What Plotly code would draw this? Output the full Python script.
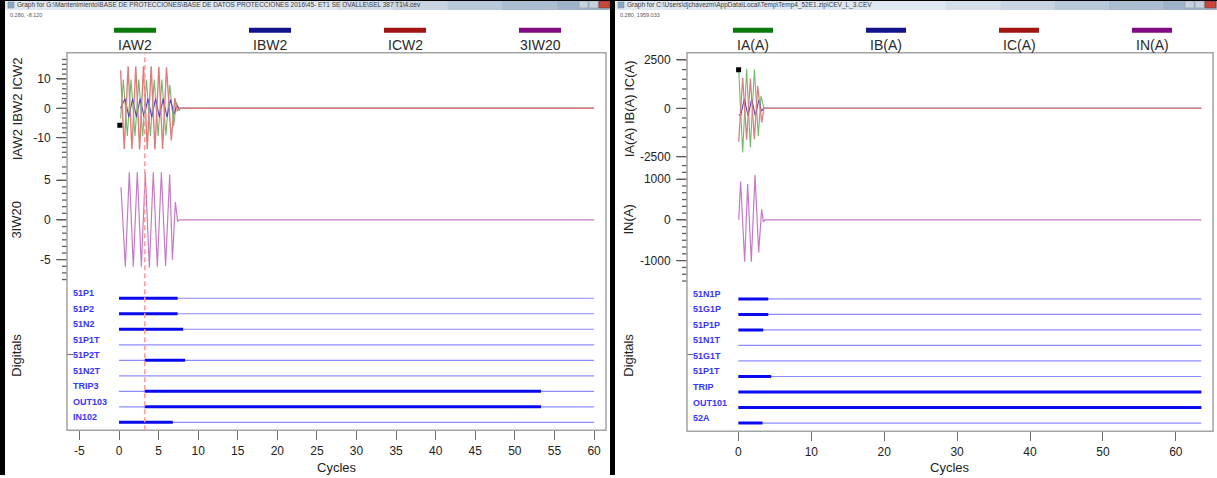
import math
import plotly.graph_objects as go

W, H = 1217, 478

# ---------------- data ----------------
# Left record (SEL 387 T1) - analog channels, time in cycles, values at successive extrema
L_T_IAW2 = [0.2, 0.55, 1.05, 1.52, 2.02, 2.5, 2.99, 3.47, 3.96, 4.45, 4.94, 5.42, 5.92, 6.42, 6.9, 7.25, 7.55, 7.8, 60]
L_V_IAW2 = [-3.5, 9.8, -9.4, 9.8, -9.4, 9.8, -9.5, 9.8, -9.4, 9.8, -9.4, 9.8, -9.3, 8.0, -6.0, 2.0, -0.8, 0, 0]
L_T_IBW2 = [0.2, 0.76, 1.25, 1.72, 2.2, 2.68, 3.17, 3.65, 4.14, 4.62, 5.1, 5.58, 6.06, 6.5, 6.95, 7.3, 7.6, 60]
L_V_IBW2 = [0, 3.3, -3.0, 3.3, -3.0, 3.3, -3.0, 3.3, -3.0, 3.3, -3.0, 3.3, -3.0, 3.0, -2.0, 1.0, 0, 0]
L_T_ICW2 = [0.2, 0.66, 1.15, 1.63, 2.12, 2.6, 3.09, 3.57, 4.06, 4.54, 5.03, 5.51, 6.0, 6.6, 7.05, 7.35, 7.7, 60]
L_V_ICW2 = [13.0, -13.9, 14.3, -13.9, 14.3, -14.0, 14.3, -13.9, 14.3, -14.0, 14.2, -13.9, 14.0, -11.0, 3.5, -0.8, 0, 0]
L_T_3IW20 = [0.25, 0.8, 1.3, 1.8, 2.31, 2.82, 3.32, 3.83, 4.33, 4.84, 5.35, 5.88, 6.4, 6.75, 7.12, 7.4, 7.6, 60]
L_V_3IW20 = [4.1, -5.9, 6.0, -5.9, 6.0, -5.9, 6.0, -6.0, 6.0, -5.9, 6.0, -5.8, 5.7, -5.0, 2.25, -0.2, 0, 0]

L_DIG_NAMES = ["51P1", "51P2", "51N2", "51P1T", "51P2T", "51N2T", "TRIP3", "OUT103", "IN102"]
L_DIG_ON = [0, 0, 0, None, 3.25, None, 3.25, 3.25, 0]
L_DIG_OFF = [7.4, 7.4, 8.1, None, 8.35, None, 53.3, 53.3, 6.8]
L_END = 60
L_TRIGGER = 3.25
L_CURSOR = (0.1, -5.8)
L_LEGEND = ["IAW2", "IBW2", "ICW2", "3IW20"]
L_XTICKS = [-5, 0, 5, 10, 15, 20, 25, 30, 35, 40, 45, 50, 55, 60]

# Right record (CEV_L_3)
R_T_IA = [0.04, 0.59, 1.13, 1.64, 2.19, 2.73, 3.1, 3.51, 63.5]
R_V_IA = [2000, -2280, 2030, -2020, 2000, -1430, 630, 0, 0]
R_T_IB = [0.04, 0.31, 0.81, 1.32, 1.82, 2.32, 2.82, 3.15, 3.45, 63.5]
R_V_IB = [-310, -390, 500, -390, 480, -380, 450, -150, 0, 0]
R_T_IC = [0.04, 0.59, 1.13, 1.64, 2.19, 2.65, 3.2, 3.5, 63.5]
R_V_IC = [-1730, 1575, -1625, 1540, -1600, 1145, -735, 0, 0]
R_T_IN = [0.04, 0.31, 0.86, 1.27, 1.77, 2.28, 2.78, 3.19, 3.42, 3.65, 63.5]
R_V_IN = [0, 940, -1025, 880, -1025, 1105, -800, 260, -50, 0, 0]

R_DIG_NAMES = ["51N1P", "51G1P", "51P1P", "51N1T", "51G1T", "51P1T", "TRIP", "OUT101", "52A"]
R_DIG_ON = [0, 0, 0, None, None, 0, 0, 0, 0]
R_DIG_OFF = [4.1, 4.1, 3.4, None, None, 4.5, 63.5, 63.5, 3.3]
R_END = 63.5
R_CURSOR = (0.03, 1990)
R_LEGEND = ["IA(A)", "IB(A)", "IC(A)", "IN(A)"]
R_XTICKS = [0, 10, 20, 30, 40, 50, 60]

# ---------------- styling ----------------
FONT = "Arial, Liberation Sans, sans-serif"
TICKC = "#6e6e6e"
YTICKC = "#5e5e5e"
TXT = "#222222"
C_GREEN = "#6cbc6c"
C_BLUE = "#4a4ac4"
C_RED = "#e07c7c"
C_PURPLE = "#c67ac6"
LEG_COLORS = ["#0b7a0b", "#12128a", "#a01414", "#820a82"]
DIG_THIN = "#8c8cff"
DIG_THICK = "#0a0af0"
DIG_TXT = "#3535ff"


def px(x):
    return x / W


def py(y):
    return 1 - y / H


fig = go.Figure()


def line(x, y, xa, ya, color, width):
    fig.add_trace(go.Scatter(x=x, y=y, xaxis=xa, yaxis=ya, mode="lines",
                             line=dict(color=color, width=width),
                             hoverinfo="skip", showlegend=False))


# analog channels
line(L_T_IAW2, L_V_IAW2, "x", "y", C_GREEN, 1.1)
line(L_T_IBW2, L_V_IBW2, "x", "y", C_BLUE, 1.1)
line(L_T_ICW2, L_V_ICW2, "x", "y", C_RED, 1.4)
line(L_T_3IW20, L_V_3IW20, "x", "y2", C_PURPLE, 1.2)
line(R_T_IA, R_V_IA, "x2", "y4", C_GREEN, 1.1)
line(R_T_IB, R_V_IB, "x2", "y4", C_BLUE, 1.1)
line(R_T_IC, R_V_IC, "x2", "y4", C_RED, 1.3)
line(R_T_IN, R_V_IN, "x2", "y5", C_PURPLE, 1.2)


# digital channels
def digitals(names, on, off, end, xa, ya):
    n = len(names)
    for i in range(n):
        r = n - 1 - i
        line([0, end], [r, r], xa, ya, DIG_THIN, 1.2)
        if on[i] is not None:
            line([on[i], off[i]], [r, r], xa, ya, DIG_THICK, 3)


digitals(L_DIG_NAMES, L_DIG_ON, L_DIG_OFF, L_END, "x", "y3")
digitals(R_DIG_NAMES, R_DIG_ON, R_DIG_OFF, R_END, "x2", "y6")

# cursor markers
fig.add_trace(go.Scatter(x=[L_CURSOR[0]], y=[L_CURSOR[1]], xaxis="x", yaxis="y", mode="markers",
                         marker=dict(symbol="square", size=5, color="black"), hoverinfo="skip", showlegend=False))
fig.add_trace(go.Scatter(x=[R_CURSOR[0]], y=[R_CURSOR[1]], xaxis="x2", yaxis="y4", mode="markers",
                         marker=dict(symbol="square", size=5, color="black"), hoverinfo="skip", showlegend=False))

# ---------------- axes ----------------
tickfont = dict(family=FONT, size=12, color=TXT)


def xaxis(dom, rng, ticks, anchor):
    return dict(domain=dom, range=rng, anchor=anchor, tickmode="array", tickvals=ticks,
                ticktext=[str(t) for t in ticks], ticks="outside", ticklen=9, tickcolor=TICKC,
                tickwidth=1, tickfont=tickfont, showgrid=False, zeroline=False, showline=False,
                fixedrange=True)


def xover(rng, over, anchor, dt):
    return dict(range=rng, overlaying=over, anchor=anchor, tickmode="linear", tick0=0, dtick=dt,
                ticks="inside", ticklen=8, tickcolor=TICKC, tickwidth=1, showticklabels=False,
                showgrid=False, zeroline=False, showline=False, fixedrange=True)


def yaxis(dom, rng, ticks, anchor):
    return dict(domain=dom, range=rng, anchor=anchor, tickmode="array", tickvals=ticks,
                ticktext=[str(t) for t in ticks], ticks="outside", ticklen=10, tickcolor=YTICKC,
                tickwidth=1, tickfont=tickfont, ticklabelstandoff=3,
                showgrid=False, zeroline=False, showline=False, fixedrange=True)


def ydig(dom, rng, anchor):
    return dict(domain=dom, range=rng, anchor=anchor, tickmode="array", tickvals=[4.4],
                ticktext=[""], ticks="inside", ticklen=6, tickcolor=TICKC,
                showgrid=False, zeroline=False, showline=False, fixedrange=True)


L_XR = [-6.57, 61.51]
R_XR = [-7.05, 65.1]
Y1R = [-17.97, 18.3]
Y2R = [-7.71, 7.04]
Y3R = [-0.513, 8.97]
Y4R = [-2720, 2874]
Y5R = [-1505, 1373]
Y6R = [-0.53, 9.01]

layout = dict(
    width=W, height=H, autosize=False, margin=dict(l=0, r=0, t=0, b=0, pad=0),
    paper_bgcolor="white", plot_bgcolor="rgba(0,0,0,0)", showlegend=False,
    font=dict(family=FONT, color=TXT),
    xaxis=xaxis([px(67), px(606)], L_XR, L_XTICKS, "y3"),
    xaxis3=xover(L_XR, "x", "y3", 1),
    xaxis2=xaxis([px(687), px(1213)], R_XR, R_XTICKS, "y6"),
    xaxis4=xover(R_XR, "x2", "y6", 2),
    yaxis=yaxis([py(162), py(55)], Y1R, [-10, 0, 10], "x"),
    yaxis2=yaxis([py(283), py(165)], Y2R, [-5, 0, 5], "x"),
    yaxis3=ydig([py(433), py(285)], Y3R, "x"),
    yaxis4=yaxis([py(162), py(53)], Y4R, [-2500, 0, 2500], "x2"),
    yaxis5=yaxis([py(283), py(165)], Y5R, [-1000, 0, 1000], "x2"),
    yaxis6=ydig([py(434), py(285)], Y6R, "x2"),
)
fig.update_layout(**layout)

# ---------------- shapes ----------------
shapes = []


def rect(x0, y0, x1, y1, fill, lc=None, lw=0, layer="above"):
    shapes.append(dict(type="rect", xref="paper", yref="paper", x0=px(x0), x1=px(x1),
                       y0=py(y1), y1=py(y0), fillcolor=fill,
                       line=dict(color=lc or fill, width=lw), layer=layer))


def yticks(rng, dom_px, major, minor, axis_px):
    # axis decoration: ruler tick marks placed with the axis' own value->pixel scale
    top, bot = dom_px
    k0 = math.ceil(rng[0] / minor - 1e-9)
    k1 = math.floor(rng[1] / minor + 1e-9)
    for k in range(k0, k1 + 1):
        v = k * minor
        ypx = bot - (v - rng[0]) / (rng[1] - rng[0]) * (bot - top)
        is_major = abs(v / major - round(v / major)) < 1e-6
        ln = 10 if is_major else 5
        shapes.append(dict(type="line", xref="paper", yref="paper", x0=px(axis_px - ln), x1=px(axis_px),
                           y0=py(ypx), y1=py(ypx), line=dict(color=YTICKC, width=1.3), layer="above"))


yticks(Y1R, (55, 162), 10, 10 / 6, 67)
yticks(Y2R, (165, 283), 5, 5 / 6, 67)
yticks(Y4R, (53, 162), 2500, 500, 687)
yticks(Y5R, (165, 283), 1000, 1000 / 6, 687)

# window title bars
for (a, b) in [(5, 611), (615, 1217)]:
    rect(a, 0, b, 10, "#dfe7f0")
    span = b - a
    for k, c in enumerate(["#d4dee9", "#c8d4e1", "#b9c8d8", "#aabccf", "#9fb3c8"]):
        rect(a + span * (0.55 + 0.09 * k), 0, a + span * (0.64 + 0.09 * k), 10, c)
    rect(b - 32, 1, b - 23, 8, "#c9d2dc", "#8a98a8", 0.5)
    rect(b - 22, 1, b - 13, 8, "#c9d2dc", "#8a98a8", 0.5)
    rect(b - 12, 1, b - 1, 8, "#c8463a", "#8a2a22", 0.5)
    rect(a + 3, 2, a + 9, 8, "#8fa6c2", "#6f86a2", 0.5)
rect(0, 0, 1217, 1, "black")
rect(0, 0, 5, 478, "black")
rect(610, 0, 615, 478, "black")

# plot frames
rect(67, 53, 606, 433, "rgba(0,0,0,0)", "#a3a3a3", 1.5)
rect(687, 53, 1213, 434, "rgba(0,0,0,0)", "#a3a3a3", 1.5)

# legend colour bars
for i in range(4):
    cx = 135 + 135 * i
    rect(cx - 21, 28, cx + 21, 33, LEG_COLORS[i])
    cx = 753 + 133 * i
    rect(cx - 20, 28, cx + 20, 33, LEG_COLORS[i])

# trigger cursor line
shapes.append(dict(type="line", xref="x", yref="paper", x0=L_TRIGGER, x1=L_TRIGGER,
                   y0=py(433), y1=py(53), line=dict(color="#ff9c9c", width=1.5, dash="5px,3px"),
                   layer="above"))

fig.update_layout(shapes=shapes)

# ---------------- annotations ----------------
ann = []


def text(x, y, s, size, color=TXT, xanchor="center", angle=0, weight="normal"):
    ann.append(dict(x=px(x), y=py(y), xref="paper", yref="paper", text=s, showarrow=False,
                    xanchor=xanchor, yanchor="middle", textangle=angle,
                    font=dict(family=FONT, size=size, color=color, weight=weight)))


text(15, 5, "Graph for G:\\Mantenimiento\\BASE DE PROTECCIONES\\BASE DE DATOS PROTECCIONES 2016\\45- ET1 SE OVALLE\\SEL 387 T1\\4.cev",
     6.5, "#3a3a3a", "left")
text(625, 5, "Graph for C:\\Users\\djchavezm\\AppData\\Local\\Temp\\Temp4_52E1.zip\\CEV_L_3.CEV",
     6.5, "#3a3a3a", "left")
text(8, 15, "0.280, -8.120", 5.5, "#555555", "left")
text(618, 15, "0.280, 1959.033", 5.5, "#555555", "left")

for i in range(4):
    text(135 + 135 * i, 45, L_LEGEND[i], 14, "#2a2a2a")
    text(753 + 133 * i, 45, R_LEGEND[i], 14, "#2a2a2a")

text(17, 110, "IAW2 IBW2 ICW2", 13, TXT, angle=-90)
text(17, 221, "3IW20", 13, TXT, angle=-90)
text(17, 358, "Digitals", 13, TXT, angle=-90)
text(629, 110, "IA(A) IB(A) IC(A)", 13, TXT, angle=-90)
text(629, 221, "IN(A)", 13, TXT, angle=-90)
text(629, 358, "Digitals", 13, TXT, angle=-90)

text(337, 470, "Cycles", 13, TXT)
text(950, 470, "Cycles", 13, TXT)


def dig_labels(names, x, ya):
    n = len(names)
    for i, nm in enumerate(names):
        ann.append(dict(x=px(x), y=n - 1 - i, xref="paper", yref=ya, text=nm, showarrow=False,
                        xanchor="left", yanchor="middle", yshift=5,
                        font=dict(family=FONT, size=9, color=DIG_TXT, weight="bold")))


dig_labels(L_DIG_NAMES, 71, "y3")
dig_labels(R_DIG_NAMES, 691, "y6")

fig.update_layout(annotations=ann)

fig.write_html("out.html", config={"displayModeBar": False})
